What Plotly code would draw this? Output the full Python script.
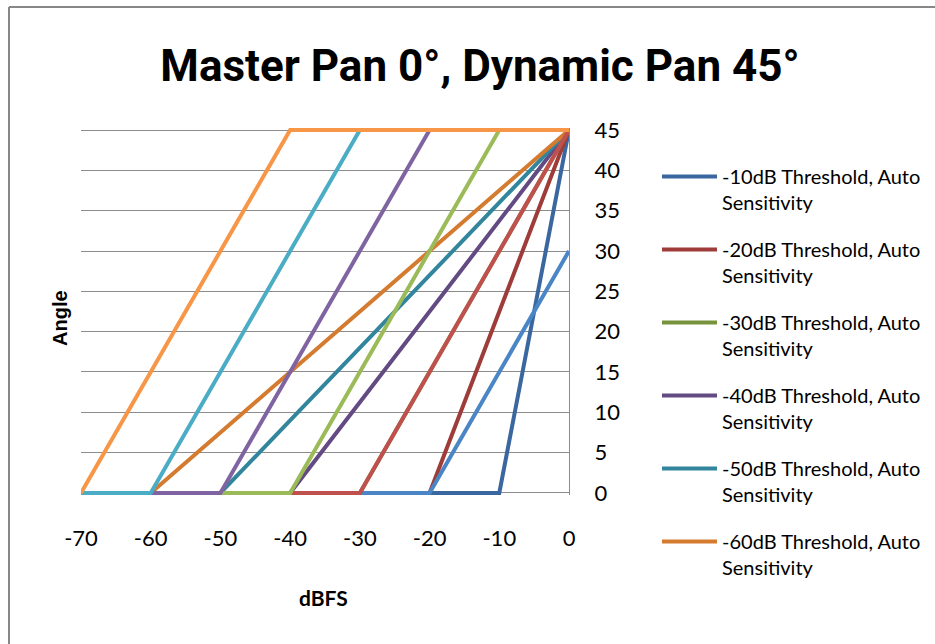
import plotly.graph_objects as go

# dBFS sample points shared by all series
dbfs = [-70, -60, -50, -40, -30, -20, -10, 0]

# Auto-sensitivity series (shown in legend)
auto_names = [
    "-10dB Threshold, Auto<br>Sensitivity",
    "-20dB Threshold, Auto<br>Sensitivity",
    "-30dB Threshold, Auto<br>Sensitivity",
    "-40dB Threshold, Auto<br>Sensitivity",
    "-50dB Threshold, Auto<br>Sensitivity",
    "-60dB Threshold, Auto<br>Sensitivity",
]
auto_10 = [0, 0, 0, 0, 0, 0, 0, 45]
auto_20 = [0, 0, 0, 0, 0, 0, 22.5, 45]
auto_30 = [0, 0, 0, 0, 0, 15, 30, 45]
auto_40 = [0, 0, 0, 0, 11.25, 22.5, 33.75, 45]
auto_50 = [0, 0, 0, 9, 18, 27, 36, 45]
auto_60 = [0, 0, 7.5, 15, 22.5, 30, 37.5, 45]
auto_series = [auto_10, auto_20, auto_30, auto_40, auto_50, auto_60]
auto_colors = ["#3A67A0", "#9D3C39", "#77933C", "#634A82", "#31869D", "#D47B30"]

# Fixed-sensitivity series (not in visible legend)
fixed_names = ["-20dB Threshold", "-30dB Threshold", "-40dB Threshold",
               "-50dB Threshold", "-60dB Threshold", "-70dB Threshold"]
fixed_20 = [0, 0, 0, 0, 0, 0, 15, 30]
fixed_30 = [0, 0, 0, 0, 0, 15, 30, 45]
fixed_40 = [0, 0, 0, 0, 15, 30, 45, 45]
fixed_50 = [0, 0, 0, 15, 30, 45, 45, 45]
fixed_60 = [0, 0, 15, 30, 45, 45, 45, 45]
fixed_70 = [0, 15, 30, 45, 45, 45, 45, 45]
fixed_series = [fixed_20, fixed_30, fixed_40, fixed_50, fixed_60, fixed_70]
fixed_colors = ["#4A86C6", "#C0504D", "#9BBB59", "#8064A2", "#4BACC6", "#F79646"]

x_ticks = [-70, -60, -50, -40, -30, -20, -10, 0]
y_ticks = [0, 5, 10, 15, 20, 25, 30, 35, 40, 45]

fig = go.Figure()
for i, (name, ys, col) in enumerate(zip(auto_names, auto_series, auto_colors)):
    fig.add_trace(go.Scatter(x=dbfs, y=ys, mode="lines", name=name,
                             line=dict(color=col, width=4),
                             legendgroup=f"a{i}", showlegend=True))
for i, (name, ys, col) in enumerate(zip(fixed_names, fixed_series, fixed_colors)):
    fig.add_trace(go.Scatter(x=dbfs, y=ys, mode="lines", name=name,
                             line=dict(color=col, width=4),
                             legendgroup=f"f{i}", showlegend=False))

grid = "#8C8C8C"
W, H = 935, 644
ml, mr, mt, mb = 81, 366, 128, 149
pw = W - ml - mr
ph = H - mt - mb

def px_x(p):
    return (p - ml) / pw

def px_y(p):
    return (H - mb - p) / ph

fig.update_layout(
    width=W, height=H,
    margin=dict(l=ml, r=mr, t=mt, b=mb, autoexpand=False),
    paper_bgcolor="white", plot_bgcolor="white",
    title=dict(text="<b>Master Pan 0°, Dynamic Pan 45°</b>",
               x=480 / W, xanchor="center", y=1 - 66 / H, yanchor="middle",
               font=dict(family="Roboto", size=44, color="black")),
    xaxis=dict(range=[-70, 0], tickvals=x_ticks, ticktext=[str(v) for v in x_ticks],
               showgrid=False, zeroline=False, showline=False, ticks="",
               ticklabelstandoff=28,
               tickfont=dict(family="Lato", size=22, color="black")),
    yaxis=dict(range=[-0.25, 45.25], tickvals=y_ticks, side="right",
               showgrid=True, gridcolor=grid, gridwidth=1, zeroline=False,
               showline=True, linecolor=grid, linewidth=1, ticks="",
               ticklabelstandoff=20,
               tickfont=dict(family="Lato", size=22, color="black")),
    legend=dict(x=px_x(657), xanchor="left", y=px_y(157), yanchor="top",
                font=dict(family="Lato", size=20, color="black"),
                itemwidth=55, valign="top", tracegroupgap=18,
                maxheight=620,
                bgcolor="rgba(0,0,0,0)"),
    showlegend=True,
    annotations=[
        dict(text="<b>Angle</b>", x=px_x(60), y=px_y(318), xref="paper", yref="paper",
             textangle=-90, showarrow=False, xanchor="center", yanchor="middle",
             font=dict(family="Liberation Sans", size=20, color="black")),
        dict(text="<b>dBFS</b>", x=px_x(323), y=px_y(597), xref="paper", yref="paper",
             showarrow=False, xanchor="center", yanchor="middle",
             font=dict(family="Lato", size=21, color="black")),
    ],
    shapes=[
        dict(type="line", xref="paper", yref="paper",
             x0=px_x(9), x1=px_x(960), y0=px_y(7), y1=px_y(7),
             line=dict(color="#878787", width=2)),
        dict(type="line", xref="paper", yref="paper",
             x0=px_x(9), x1=px_x(9), y0=px_y(7), y1=px_y(660),
             line=dict(color="#878787", width=2)),
    ],
)

fig.write_html("out.html")
